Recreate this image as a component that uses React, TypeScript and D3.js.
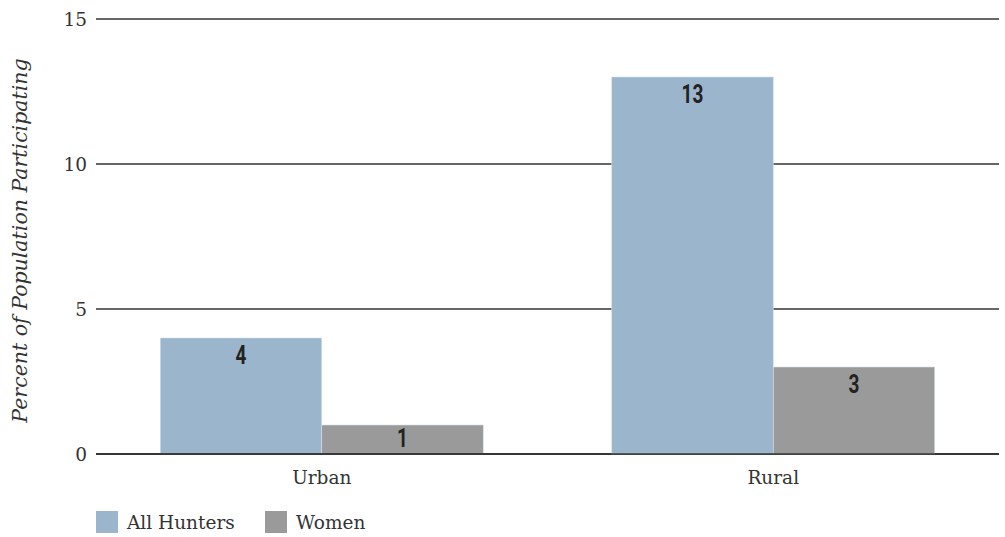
import React from "react";
import * as d3 from "d3";

const categories = ["Urban", "Rural"];
const seriesNames = ["All Hunters", "Women"];
const allHunters = [4, 13];
const women = [1, 3];
const yTicks = [0, 5, 10, 15];
const colors = ["#9bb5cc", "#9a9a9a"];

const W = 1005;
const H = 537;
const margin = { left: 96, right: 6, top: 19, bottom: 83 };

export default function App() {
  const x0 = d3
    .scaleBand<string>()
    .domain(categories)
    .range([margin.left, W - margin.right])
    .paddingInner(0.2846)
    .paddingOuter(0.1423);
  const x1 = d3.scaleBand<string>().domain(seriesNames).range([0, x0.bandwidth()]).padding(0);
  const y = d3.scaleLinear().domain([0, 15]).range([H - margin.bottom, margin.top]);
  const values = [allHunters, women];
  const serif = "'DejaVu Serif', serif";
  const labelFont = "'Roboto', 'Liberation Sans', sans-serif";

  return (
    <svg width={W} height={H} style={{ position: "absolute", left: 0, top: 0, background: "#fff" }}>
      {yTicks.map((t) => (
        <g key={t}>
          <line x1={margin.left} x2={W - margin.right} y1={y(t)} y2={y(t)} stroke="#333" strokeWidth={1.4} />
          <text x={87} y={y(t)} dy="0.36em" textAnchor="end" fontFamily={serif} fontSize={18.5} fill="#333">
            {t}
          </text>
        </g>
      ))}
      {categories.map((c, ci) => (
        <g key={c}>
          {seriesNames.map((s, si) => {
            const v = values[si][ci];
            const bx = (x0(c) as number) + (x1(s) as number);
            const cx = bx + x1.bandwidth() / 2;
            const ly = Math.min(y(v) + 26, y(0) - 7);
            return (
              <g key={s}>
                <rect
                  x={bx}
                  y={y(v)}
                  width={x1.bandwidth()}
                  height={y(0) - y(v)}
                  fill={colors[si]}
                  stroke="#d8e0e8"
                  strokeWidth={0.6}
                />
                <text
                  transform={`translate(${cx}, ${ly}) scale(0.76, 1)`}
                  textAnchor="middle"
                  fontFamily={labelFont}
                  fontWeight="bold"
                  fontSize={25}
                  fill="#222"
                >
                  {v}
                </text>
              </g>
            );
          })}
          <line x1={margin.left} x2={W - margin.right} y1={y(0)} y2={y(0)} stroke="#333" strokeWidth={1.4} />
          <text
            x={(x0(c) as number) + x0.bandwidth() / 2}
            y={y(0) + 30}
            textAnchor="middle"
            fontFamily={serif}
            fontSize={18.5}
            fill="#333"
          >
            {c}
          </text>
        </g>
      ))}
      <text
        transform={`translate(27, ${(y(0) + y(15)) / 2 + 4}) rotate(-90)`}
        textAnchor="middle"
        fontFamily={serif}
        fontStyle="italic"
        fontSize={20.5}
        fill="#333"
      >
        Percent of Population Participating
      </text>
      {seriesNames.map((s, i) => {
        const lx = 96 + i * 169;
        return (
          <g key={s}>
            <rect x={lx} y={511} width={22} height={22} fill={colors[i]} />
            <text x={lx + 31} y={529} fontFamily={serif} fontSize={18.5} fill="#333">
              {s}
            </text>
          </g>
        );
      })}
    </svg>
  );
}
